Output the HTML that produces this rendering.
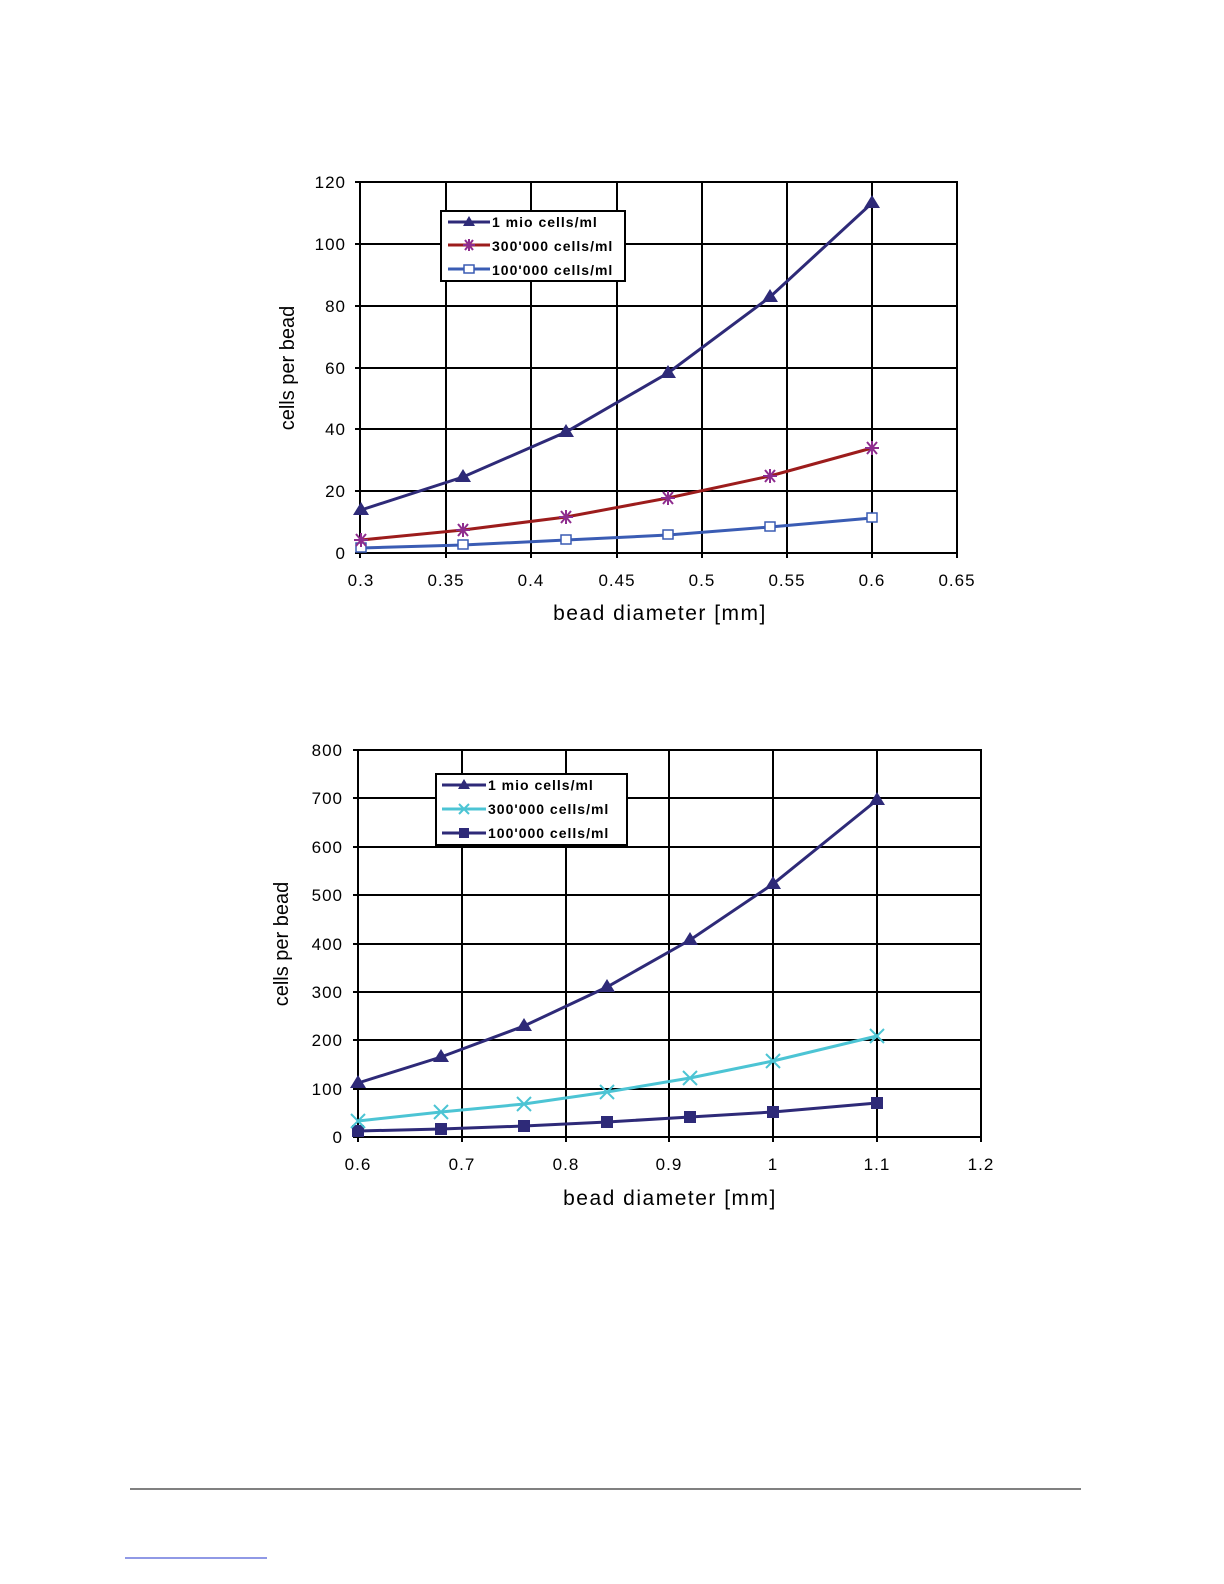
<!DOCTYPE html>
<html><head><meta charset="utf-8"><style>
html,body{margin:0;padding:0;background:#fff;overflow:hidden;width:1224px;height:1584px;}
svg{display:block;font-family:"Liberation Sans",Arial,sans-serif;}
</style></head><body>
<svg width="1224" height="1584" viewBox="0 0 1224 1584" xmlns="http://www.w3.org/2000/svg">
<!-- Chart 1 -->
<g stroke="#000" stroke-width="2" fill="none">
<rect x="360" y="182" width="597" height="371"/>
<path d="M446 182V553M531 182V553M617 182V553M702 182V553M787 182V553M872 182V553"/>
<path d="M360 244H957M360 306H957M360 368H957M360 429H957M360 491H957"/>
<path d="M355 553H360M355 491H360M355 429H360M355 368H360M355 306H360M355 244H360M355 182H360"/>
<path d="M360 553V558M446 553V558M531 553V558M617 553V558M702 553V558M787 553V558M872 553V558M957 553V558"/>
</g>
<g font-size="17" fill="#000" text-anchor="end" letter-spacing="1">
<text x="346" y="559">0</text><text x="346" y="497">20</text><text x="346" y="435">40</text><text x="346" y="374">60</text><text x="346" y="312">80</text><text x="346" y="250">100</text><text x="346" y="188">120</text>
</g>
<g font-size="17" fill="#000" text-anchor="middle" letter-spacing="1">
<text x="361" y="586">0.3</text><text x="446" y="586">0.35</text><text x="531" y="586">0.4</text><text x="617" y="586">0.45</text><text x="702" y="586">0.5</text><text x="787" y="586">0.55</text><text x="872" y="586">0.6</text><text x="957" y="586">0.65</text>
</g>
<text x="660" y="620" font-size="21" text-anchor="middle" letter-spacing="1.5">bead diameter  [mm]</text>
<text transform="translate(294,368) rotate(-90)" font-size="20" text-anchor="middle">cells per bead</text>
<polyline points="361,548 463,545 566,540 668,535 770,527 872,518" fill="none" stroke="#3a5cb4" stroke-width="3"/>
<g fill="#fff" stroke="#3a5cb4" stroke-width="1.5">
<rect x="356" y="543" width="10" height="9"/><rect x="458" y="540" width="10" height="9"/><rect x="561" y="535" width="10" height="9"/><rect x="663" y="530" width="10" height="9"/><rect x="765" y="522" width="10" height="9"/><rect x="867" y="513" width="10" height="9"/>
</g>
<polyline points="361,540 463,530 566,517 668,498 770,476 872,448" fill="none" stroke="#9c1c1c" stroke-width="3"/>
<g stroke="#8e2d8e" stroke-width="2">
<path d="M-7 0H7M-5-6L5 6M-5 6L5-6M0-7V7" transform="translate(361,540)"/>
<path d="M-7 0H7M-5-6L5 6M-5 6L5-6M0-7V7" transform="translate(463,530)"/>
<path d="M-7 0H7M-5-6L5 6M-5 6L5-6M0-7V7" transform="translate(566,517)"/>
<path d="M-7 0H7M-5-6L5 6M-5 6L5-6M0-7V7" transform="translate(668,498)"/>
<path d="M-7 0H7M-5-6L5 6M-5 6L5-6M0-7V7" transform="translate(770,476)"/>
<path d="M-7 0H7M-5-6L5 6M-5 6L5-6M0-7V7" transform="translate(872,448)"/>
</g>
<polyline points="361,510 463,477 566,432 668,373 770,297 872,203" fill="none" stroke="#2e2a78" stroke-width="3"/>
<g fill="#2e2a78">
<polygon points="361,502 369,515 353,515"/><polygon points="463,469 471,482 455,482"/><polygon points="566,424 574,437 558,437"/><polygon points="668,365 676,378 660,378"/><polygon points="770,289 778,302 762,302"/><polygon points="872,195 880,208 864,208"/>
</g>
<rect x="441" y="211" width="184" height="70" fill="#fff" stroke="#000" stroke-width="2"/>
<g stroke-width="3"><path d="M448 222H490" stroke="#2e2a78"/><path d="M448 245H490" stroke="#9c1c1c"/><path d="M448 269H490" stroke="#3a5cb4"/></g>
<polygon points="469,216 475,226 463,226" fill="#2e2a78"/>
<path d="M463 245H475M465 240L473 250M465 250L473 240M469 239V251" stroke="#8e2d8e" stroke-width="2"/>
<rect x="464" y="265" width="10" height="8" fill="#fff" stroke="#3a5cb4" stroke-width="1.5"/>
<g font-size="14" font-weight="bold" letter-spacing="1"><text x="492" y="227">1 mio cells/ml</text><text x="492" y="251">300'000 cells/ml</text><text x="492" y="275">100'000 cells/ml</text></g>

<!-- Chart 2 -->
<g stroke="#000" stroke-width="2" fill="none">
<rect x="358" y="750" width="623" height="387"/>
<path d="M462 750V1137M566 750V1137M669 750V1137M773 750V1137M877 750V1137"/>
<path d="M358 798H981M358 847H981M358 895H981M358 944H981M358 992H981M358 1040H981M358 1089H981"/>
<path d="M353 1137H358M353 1089H358M353 1040H358M353 992H358M353 944H358M353 895H358M353 847H358M353 798H358M353 750H358"/>
<path d="M358 1137V1142M462 1137V1142M566 1137V1142M669 1137V1142M773 1137V1142M877 1137V1142M981 1137V1142"/>
</g>
<g font-size="17" fill="#000" text-anchor="end" letter-spacing="1">
<text x="343" y="1143">0</text><text x="343" y="1095">100</text><text x="343" y="1046">200</text><text x="343" y="998">300</text><text x="343" y="950">400</text><text x="343" y="901">500</text><text x="343" y="853">600</text><text x="343" y="804">700</text><text x="343" y="756">800</text>
</g>
<g font-size="17" fill="#000" text-anchor="middle" letter-spacing="1">
<text x="358" y="1170">0.6</text><text x="462" y="1170">0.7</text><text x="566" y="1170">0.8</text><text x="669" y="1170">0.9</text><text x="773" y="1170">1</text><text x="877" y="1170">1.1</text><text x="981" y="1170">1.2</text>
</g>
<text x="670" y="1205" font-size="21" text-anchor="middle" letter-spacing="1.5">bead diameter  [mm]</text>
<text transform="translate(288,944) rotate(-90)" font-size="20" text-anchor="middle">cells per bead</text>
<polyline points="358,1131 441,1129 524,1126 607,1122 690,1117 773,1112 877,1103" fill="none" stroke="#2e2a78" stroke-width="3"/>
<g fill="#2e2a78">
<rect x="352" y="1125" width="12" height="12"/><rect x="435" y="1123" width="12" height="12"/><rect x="518" y="1120" width="12" height="12"/><rect x="601" y="1116" width="12" height="12"/><rect x="684" y="1111" width="12" height="12"/><rect x="767" y="1106" width="12" height="12"/><rect x="871" y="1097" width="12" height="12"/>
</g>
<polyline points="358,1121 441,1112 524,1104 607,1092 690,1078 773,1061 877,1036" fill="none" stroke="#4cc4d4" stroke-width="3"/>
<g stroke="#4cc4d4" stroke-width="2">
<path d="M351 1114L365 1128M351 1128L365 1114"/><path d="M434 1105L448 1119M434 1119L448 1105"/><path d="M517 1097L531 1111M517 1111L531 1097"/><path d="M600 1085L614 1099M600 1099L614 1085"/><path d="M683 1071L697 1085M683 1085L697 1071"/><path d="M766 1054L780 1068M766 1068L780 1054"/><path d="M870 1029L884 1043M870 1043L884 1029"/>
</g>
<polyline points="358,1083 441,1057 524,1026 607,987 690,940 773,884 877,800" fill="none" stroke="#2e2a78" stroke-width="3"/>
<g fill="#2e2a78">
<polygon points="358,1075 366,1088 350,1088"/><polygon points="441,1049 449,1062 433,1062"/><polygon points="524,1018 532,1031 516,1031"/><polygon points="607,979 615,992 599,992"/><polygon points="690,932 698,945 682,945"/><polygon points="773,876 781,889 765,889"/><polygon points="877,792 885,805 869,805"/>
</g>
<rect x="436" y="774" width="191" height="71" fill="#fff" stroke="#000" stroke-width="2"/>
<g stroke-width="3"><path d="M442 785H486" stroke="#2e2a78"/><path d="M442 809H486" stroke="#4cc4d4"/><path d="M442 833H486" stroke="#2e2a78"/></g>
<polygon points="464,779 470,789 458,789" fill="#2e2a78"/>
<path d="M459 804L469 814M459 814L469 804" stroke="#4cc4d4" stroke-width="2"/>
<rect x="459" y="828" width="10" height="10" fill="#2e2a78"/>
<g font-size="14" font-weight="bold" letter-spacing="1"><text x="488" y="790">1 mio cells/ml</text><text x="488" y="814">300'000 cells/ml</text><text x="488" y="838">100'000 cells/ml</text></g>

<path d="M130 1489H1081" stroke="#000" stroke-width="1"/>
<path d="M125 1558H267" stroke="#2233cc" stroke-width="1"/>
</svg>
</body></html>
